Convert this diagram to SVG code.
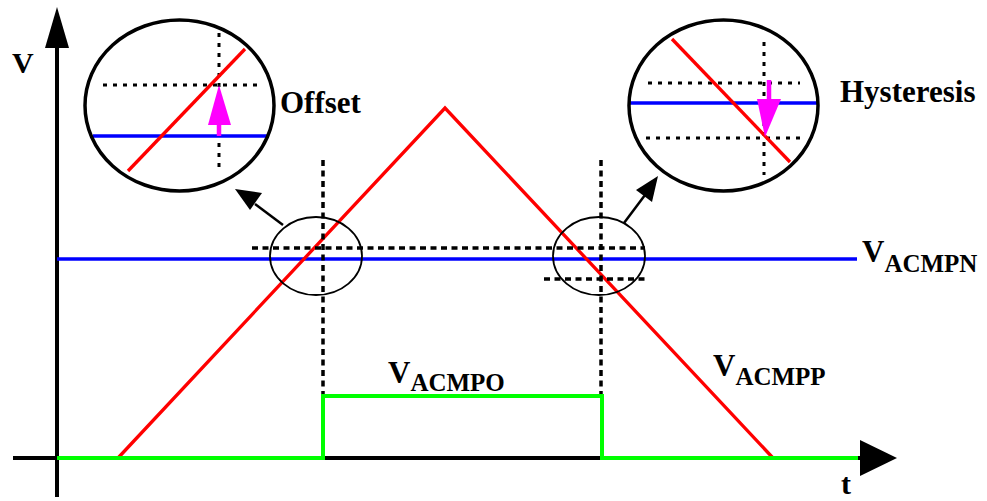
<svg xmlns="http://www.w3.org/2000/svg" width="987" height="501" viewBox="0 0 987 501">
<style>
.ax{stroke:#000;stroke-width:4;fill:none}
.red{stroke:#f00;stroke-width:3.3;fill:none}
.blue{stroke:#00f;stroke-width:3.5;fill:none}
.green{stroke:#0f0;stroke-width:4;fill:none}
.dash{stroke:#000;stroke-width:3.5;stroke-dasharray:6 4.5;fill:none}
.dash2{stroke:#000;stroke-width:3;stroke-dasharray:4 6;fill:none}
.ell{stroke:#000;stroke-width:1.8;fill:none}
.bell{stroke:#000;stroke-width:3.5;fill:none}
.mag{stroke:#f0f;stroke-width:4.5;fill:none}
text{font-family:"Liberation Serif","Times New Roman",serif;font-weight:bold;fill:#000}
</style>
<rect width="987" height="501" fill="#fff"/>
<g id="axes">
<line class="ax" x1="57" y1="45" x2="57" y2="497"/>
<polygon points="57,7 45,48 69,48" fill="#000"/>
<line class="ax" x1="13" y1="458" x2="862" y2="458"/>
<polygon points="897,458 860,440 860,476" fill="#000"/>
<text x="12" y="73" font-size="30">V</text>
<text x="841" y="494" font-size="30">t</text>
</g>
<g id="signals">
<line class="blue" x1="57" y1="259" x2="857" y2="259"/>
<polyline class="red" points="118,458 445,108 773,458"/>
<polyline class="green" points="57,458 323,458 323,396 602,396 602,458 858,458"/>
</g>
<g id="connectors">
<line class="dash" x1="323" y1="160" x2="323" y2="394"/>
<line class="dash" x1="601" y1="160" x2="601" y2="394"/>
<line class="dash" x1="252" y1="248" x2="645" y2="248"/>
<line class="dash" x1="544" y1="279" x2="648" y2="279"/>
<line stroke="#000" stroke-width="2.5" x1="283" y1="225" x2="255" y2="204"/>
<polygon points="235,189 262,193 250,210" fill="#000"/>
<line stroke="#000" stroke-width="2.5" x1="624" y1="223" x2="645" y2="195"/>
<polygon points="658,176 652,202 636,190" fill="#000"/>
</g>
<g id="zoom-left-small">
<ellipse class="ell" cx="316" cy="256" rx="46" ry="39"/>
</g>
<g id="zoom-right-small">
<ellipse class="ell" cx="599" cy="256" rx="46" ry="39"/>
</g>
<g id="offset-detail">
<line class="dash2" x1="103" y1="85" x2="262" y2="85"/>
<line class="dash2" x1="219" y1="33" x2="219" y2="167"/>
<line class="blue" x1="93" y1="136" x2="267" y2="136"/>
<line class="red" x1="128" y1="171" x2="245" y2="49"/>
<line class="mag" x1="219" y1="136" x2="219" y2="120"/>
<polygon points="219,85 208,125 231,125" fill="#f0f"/>
<ellipse class="bell" cx="179.5" cy="105.5" rx="94.5" ry="85.5"/>
<text x="280" y="113" font-size="31">Offset</text>
</g>
<g id="hysteresis-detail">
<line class="dash2" x1="648" y1="83" x2="800" y2="83"/>
<line class="dash2" x1="646" y1="138" x2="803" y2="138"/>
<line class="dash2" x1="764" y1="42" x2="764" y2="175"/>
<line class="blue" x1="629" y1="103" x2="818" y2="103"/>
<line class="red" x1="672" y1="39" x2="790" y2="162"/>
<line class="mag" x1="769" y1="80" x2="769" y2="102"/>
<polygon points="765,137 757,99 781,99" fill="#f0f"/>
<ellipse class="bell" cx="723.5" cy="105.5" rx="94.5" ry="85.5"/>
<text x="840" y="102" font-size="31">Hysteresis</text>
</g>
<g id="labels">
<text x="862" y="262" font-size="31">V<tspan font-size="25" dy="10">ACMPN</tspan></text>
<text x="388" y="383" font-size="31">V<tspan font-size="25" dy="8">ACMPO</tspan></text>
<text x="713" y="376" font-size="31">V<tspan font-size="25" dy="9">ACMPP</tspan></text>
</g>
</svg>
